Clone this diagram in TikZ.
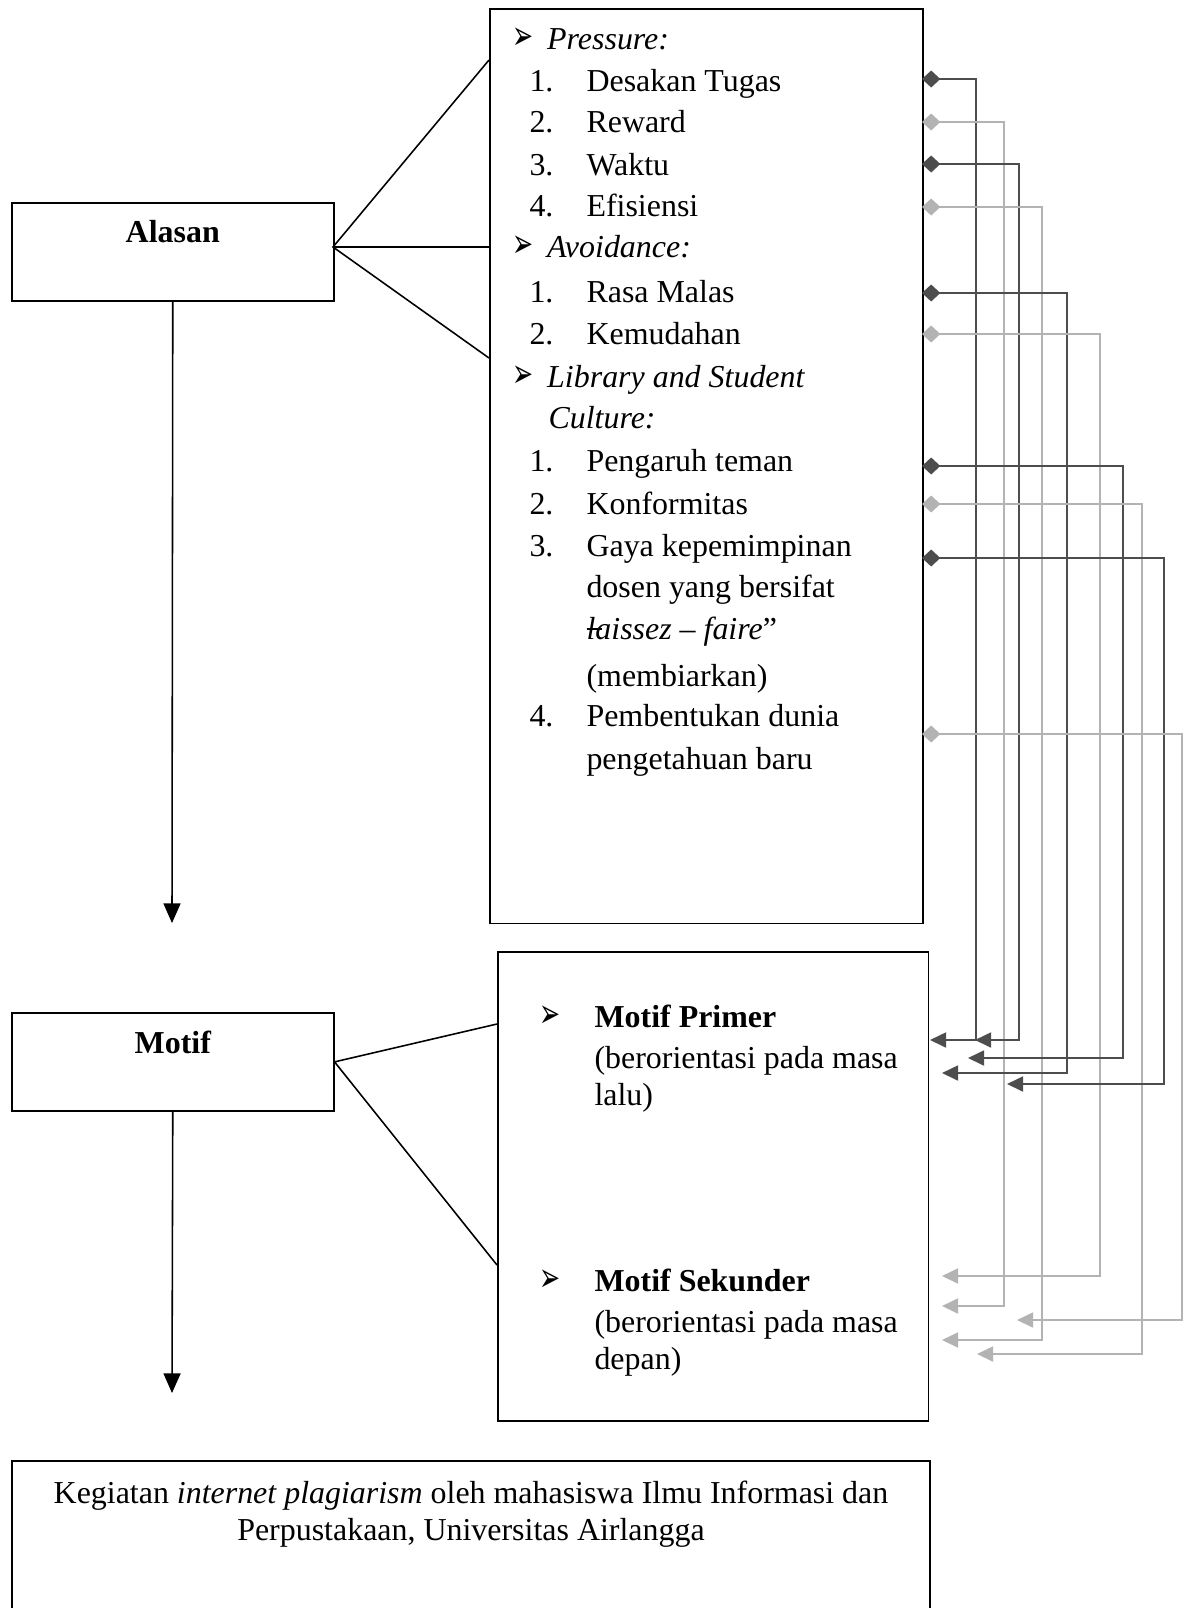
\documentclass[tikz,border=0pt]{standalone}
\usepackage{graphicx}
\usepackage{fontspec}
\setmainfont{Liberation Serif}
\newfontfamily\symfont{DejaVu Sans}
\usetikzlibrary{arrows.meta}
\definecolor{darkln}{HTML}{4D4D4D}
\definecolor{lightln}{HTML}{B3B3B3}
\newcommand{\bul}{{\symfont\fontsize{15.5}{15.5}\selectfont\scalebox{0.62}[1]{➢}}}
\newcommand{\lqbar}{\makebox[0pt][l]{\raisebox{0.28em}{\rule{0.5em}{0.05em}}}}
\tikzset{
  box/.style={draw, line width=0.6pt, inner sep=0pt},
  txt/.style={anchor=base west, inner sep=0pt},
  flow/.style={line width=0.6pt, -{Triangle[length=7.5pt,width=6.5pt]}},
  dkln/.style={darkln, line width=0.7pt, {Diamond[length=7pt,width=6.5pt]}-{Triangle[length=6.2pt,width=5.8pt]}},
  ltln/.style={lightln, line width=0.7pt, {Diamond[length=7pt,width=6.5pt]}-{Triangle[length=6.2pt,width=5.8pt]}}
}
\begin{document}
\fontsize{12.2}{14}\selectfont
\begin{tikzpicture}[x=0.382pt, y=-0.382pt]
    \useasboundingbox (0,0) rectangle (1189,1608);
    % left boxes
    \node[box, anchor=north west, minimum width=123pt, text height=15.3pt, text depth=22.2pt, font=\bfseries] (alasan) at (11,202) {Alasan};
    \node[box, anchor=north west, minimum width=123pt, text height=15.7pt, text depth=21.8pt, font=\bfseries] (motif) at (11,1012) {Motif};

    % right boxes
    \node[box, anchor=north west, minimum width=165.4pt, minimum height=349.5pt] (reasons) at (489,8) {};
    \node[box, anchor=north west, minimum width=164.6pt, minimum height=179.2pt] (motifs) at (497,951) {};
    \node[box, anchor=north west, minimum width=350.7pt, minimum height=61.1pt] (kegiatan) at (11,1460) {};

    % down arrows
    \coordinate (down1) at (172,923);
    \coordinate (down2) at (172,1393);
    \draw[flow] (alasan.south) -- (down1);
    \draw[flow] (motif.south) -- (down2);

    % fan lines
    \coordinate (in1) at (489,60);
    \coordinate (in2) at (489,247);
    \coordinate (in3) at (489,358);
    \coordinate (in4) at (497,1024);
    \coordinate (in5) at (497,1265);
    \draw[line width=0.6pt] (in1) -- (333,247) -- (in3);
    \draw[line width=0.6pt] (333,247) -- (in2);
    \draw[line width=0.6pt] (in4) -- (motif.east) -- (in5);

    % reasons list
    \node[txt] (b1) at (512,49) {\bul};
    \node[txt] (pressure) at (546.7,49) {\textit{Pressure:}};
    \node[txt] (n11) at (529,91) {1.};   \node[txt] (p1) at (586,91) {Desakan Tugas};
    \node[txt] (n12) at (529,132) {2.};  \node[txt] (p2) at (586,132) {Reward};
    \node[txt] (n13) at (529,175) {3.};  \node[txt] (p3) at (586,175) {Waktu};
    \node[txt] (n14) at (529,216) {4.};  \node[txt] (p4) at (586,216) {Efisiensi};
    \node[txt] (b2) at (512,257) {\bul};
    \node[txt] (avoid) at (546.7,257) {\textit{Avoidance:}};
    \node[txt] (n21) at (529,302) {1.};  \node[txt] (a1) at (586,302) {Rasa Malas};
    \node[txt] (n22) at (529,344) {2.};  \node[txt] (a2) at (586,344) {Kemudahan};
    \node[txt] (b3) at (512,387) {\bul};
    \node[txt] (library) at (546.7,387) {\textit{Library and Student}};
    \node[txt] (culture) at (548,428) {\textit{Culture:}};
    \node[txt] (n31) at (529,471) {1.};  \node[txt] (c1) at (586,471) {Pengaruh teman};
    \node[txt] (n32) at (529,514) {2.};  \node[txt] (c2) at (586,514) {Konformitas};
    \node[txt] (n33) at (529,556) {3.};  \node[txt] (c3) at (586,556) {Gaya kepemimpinan};
    \node[txt] (c3b) at (586,597) {dosen yang bersifat};
    \node[txt] (c3c) at (586,639) {\lqbar\textit{laissez -- faire}”};
    \node[txt] (c3d) at (586,686) {(membiarkan)};
    \node[txt] (n34) at (529,726) {4.};  \node[txt] (c4) at (586,726) {Pembentukan dunia};
    \node[txt] (c4b) at (586,769) {pengetahuan baru};

    % motif list
    \node[txt] (b4) at (539,1027) {\bul};
    \node[txt] (primer) at (594,1027) {\textbf{Motif Primer}};
    \node[txt] (primer2) at (594,1068) {(berorientasi pada masa};
    \node[txt] (primer3) at (594,1105) {lalu)};
    \node[txt] (b5) at (539,1291) {\bul};
    \node[txt] (sekunder) at (594,1291) {\textbf{Motif Sekunder}};
    \node[txt] (sekunder2) at (594,1332) {(berorientasi pada masa};
    \node[txt] (sekunder3) at (594,1369) {depan)};

    % result text
    \node[anchor=base, inner sep=0pt] (keg1) at (471,1503) {Kegiatan \textit{internet plagiarism} oleh mahasiswa Ilmu Informasi dan};
    \node[anchor=base, inner sep=0pt] (keg2) at (471,1540) {Perpustakaan, Universitas Airlangga};

    % links from reasons to motifs
    \coordinate (s1) at (922,79);   \coordinate (t1) at (930,1040);
    \coordinate (s2) at (922,122);  \coordinate (t2) at (942,1306);
    \coordinate (s3) at (922,164);  \coordinate (t3) at (975,1040);
    \coordinate (s4) at (922,207);  \coordinate (t4) at (942,1340);
    \coordinate (s5) at (922,293);  \coordinate (t5) at (942,1073);
    \coordinate (s6) at (922,334);  \coordinate (t6) at (942,1276);
    \coordinate (s7) at (922,466);  \coordinate (t7) at (968,1058);
    \coordinate (s8) at (922,504);  \coordinate (t8) at (977,1354);
    \coordinate (s9) at (922,558);  \coordinate (t9) at (1007,1084);
    \coordinate (s10) at (922,734); \coordinate (t10) at (1017,1320);

    \draw[dkln] (s1) -| (976,1040) -- (t1);
    \draw[ltln] (s2) -| (1004,1306) -- (t2);
    \draw[dkln] (s3) -| (1019,1040) -- (t3);
    \draw[ltln] (s4) -| (1042,1340) -- (t4);
    \draw[dkln] (s5) -| (1067,1073) -- (t5);
    \draw[ltln] (s6) -| (1100,1276) -- (t6);
    \draw[dkln] (s7) -| (1123,1058) -- (t7);
    \draw[ltln] (s8) -| (1142,1354) -- (t8);
    \draw[dkln] (s9) -| (1164,1084) -- (t9);
    \draw[ltln] (s10) -| (1182,1320) -- (t10);
\end{tikzpicture}
\end{document}
